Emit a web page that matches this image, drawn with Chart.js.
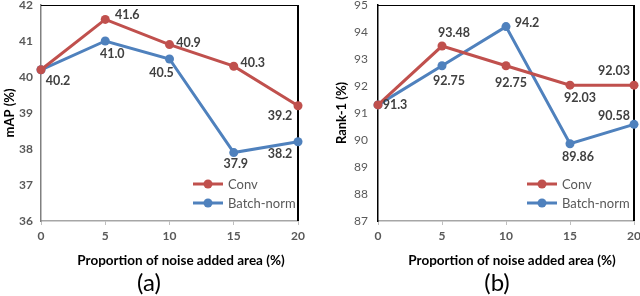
<!DOCTYPE html>
<html>
<head>
<meta charset="utf-8">
<script src="https://cdn.jsdelivr.net/npm/chart.js@4.4.1/dist/chart.umd.min.js"></script>
<style>
    html, body { margin: 0; padding: 0; background: #fff; }
    .panel { position: absolute; top: 0; width: 320px; height: 296px; }
</style>
</head>
<body>
<div class="panel" style="left:0;"><canvas id="chart-map" width="320" height="296"></canvas></div>
<div class="panel" style="left:320px;"><canvas id="chart-rank" width="320" height="296"></canvas></div>

<script>
// data
const noiseArea = ['0', '5', '10', '15', '20'];
const seriesNames = ['Conv', 'Batch-norm'];
const mapConv = [40.2, 41.6, 40.9, 40.3, 39.2];
const mapBatchNorm = [40.2, 41.0, 40.5, 37.9, 38.2];
const rankConv = [91.3, 93.48, 92.75, 92.03, 92.03];
const rankBatchNorm = [91.3, 92.75, 94.2, 89.86, 90.58];
const mapRange = [36, 42];
const rankRange = [87, 95];

const RED = '#C0504D';
const BLUE = '#4F81BD';
const FONT = 'Lato, "Open Sans", sans-serif';

// label offsets from each point (px), null = no label
const mapLabelOffsets = [
    [null, [22, -4], [19, -2], [19, -3], [-18, 10]],
    [[17, 11], [7, 13], [-8, 14], [2, 11], [-18, 12]]
];
const rankLabelOffsets = [
    [null, [12, -13], [5, 17], [10, 13], [-20, -14]],
    [[17, 0], [7, 15], [21, -4], [8, 13], [-20, -8]]
];

const decorPlugin = {
    id: 'decor',
    beforeDatasetsDraw(chart, args, o) {
        const { ctx, chartArea: a } = chart;
        ctx.save();
        ctx.strokeStyle = '#000';
        ctx.lineWidth = 1;
        ctx.beginPath();
        ctx.moveTo(a.left, a.top + 0.5);
        ctx.lineTo(a.right, a.top + 0.5);
        ctx.stroke();
        ctx.lineWidth = 2;
        ctx.beginPath();
        ctx.moveTo(a.right, a.top);
        ctx.lineTo(a.right, a.bottom);
        ctx.stroke();
        ctx.restore();
    },
    afterDatasetsDraw(chart, args, o) {
        const { ctx } = chart;
        ctx.save();
        ctx.textAlign = 'center';
        ctx.textBaseline = 'middle';

        // data labels
        ctx.font = 'bold 12.5px ' + FONT;
        ctx.fillStyle = '#404040';
        chart.data.datasets.forEach((ds, i) => {
            const meta = chart.getDatasetMeta(i);
            meta.data.forEach((pt, j) => {
                const off = o.offsets[i][j];
                if (!off) return;
                const v = ds.data[j];
                const txt = o.decimals != null ? v.toFixed(o.decimals) : String(v);
                ctx.fillText(txt, pt.x + off[0], pt.y + off[1]);
            });
        });

        // legend inside plot
        ctx.textAlign = 'left';
        ctx.font = '13px ' + FONT;
        chart.data.datasets.forEach((ds, i) => {
            const y = o.legendY + i * 19;
            const x = o.legendX;
            ctx.strokeStyle = ds.borderColor;
            ctx.lineWidth = 3;
            ctx.beginPath();
            ctx.moveTo(x, y);
            ctx.lineTo(x + 30, y);
            ctx.stroke();
            ctx.fillStyle = ds.borderColor;
            ctx.beginPath();
            ctx.arc(x + 15, y, 4.5, 0, Math.PI * 2);
            ctx.fill();
            ctx.fillStyle = '#595959';
            ctx.fillText(ds.label, x + 35, y + 1);
        });

        // x title and panel caption
        ctx.textAlign = 'center';
        ctx.fillStyle = '#000';
        ctx.font = 'bold 13.5px ' + FONT;
        ctx.fillText('Proportion of noise added area (%)', o.titleX, 261);
        ctx.font = '24px ' + FONT;
        ctx.fillText(o.caption, o.captionX, 283);
        ctx.restore();
    }
};

function makeChart(id, conv, bn, range, yTitle, cfg) {
    return new Chart(document.getElementById(id), {
        type: 'line',
        data: {
            labels: noiseArea,
            datasets: [
                { label: seriesNames[0], data: conv, borderColor: RED, backgroundColor: RED },
                { label: seriesNames[1], data: bn, borderColor: BLUE, backgroundColor: BLUE }
            ]
        },
        options: {
            responsive: false,
            animation: false,
            clip: false,
            layout: { padding: { top: 5, right: cfg.padRight, left: 0, bottom: 0 } },
            elements: {
                line: { borderWidth: 3, tension: 0 },
                point: { radius: 4.5, borderWidth: 0, hoverRadius: 4.5 }
            },
            plugins: {
                legend: { display: false },
                tooltip: { enabled: false },
                decor: cfg.decor
            },
            scales: {
                x: {
                    grid: { drawOnChartArea: false, drawTicks: true, tickLength: 4, color: '#bfbfbf' },
                    border: { color: '#a6a6a6', width: 1.5 },
                    ticks: { padding: 4, color: '#595959', font: { family: FONT, size: 12, weight: 'bold' }, maxRotation: 0 },
                    afterFit(s) { s.height = 75; s.paddingLeft = 0; s.paddingRight = 0; }
                },
                y: {
                    min: range[0],
                    max: range[1],
                    grid: { display: false, drawTicks: false },
                    border: { display: true, color: cfg.yBorder, width: 1.5 },
                    ticks: { stepSize: 1, padding: cfg.tickPad, color: '#595959', font: { family: FONT, size: 12, weight: cfg.tickWeight } },
                    title: { display: true, text: yTitle, color: '#000', font: { family: FONT, size: 13, weight: 'bold' }, padding: { top: cfg.titlePad, bottom: 0 } },
                    afterFit(s) { s.width = cfg.yWidth; s.paddingTop = 0; s.paddingBottom = 0; }
                }
            }
        },
        plugins: [decorPlugin]
    });
}

makeChart('chart-map', mapConv, mapBatchNorm, mapRange, 'mAP (%)', {
    padRight: 22, yWidth: 41, tickPad: 8, titlePad: 2, yBorder: '#808080', tickWeight: 'bold',
    decor: { offsets: mapLabelOffsets, decimals: 1, legendX: 193, legendY: 184, titleX: 181, caption: '(a)', captionX: 149 }
});

makeChart('chart-rank', rankConv, rankBatchNorm, rankRange, 'Rank-1 (%)', {
    padRight: 6, yWidth: 58, tickPad: 10, titlePad: 14, yBorder: '#000', tickWeight: 'normal',
    decor: { offsets: rankLabelOffsets, decimals: null, legendX: 207, legendY: 184, titleX: 192, caption: '(b)', captionX: 177 }
});
</script>
</body>
</html>
